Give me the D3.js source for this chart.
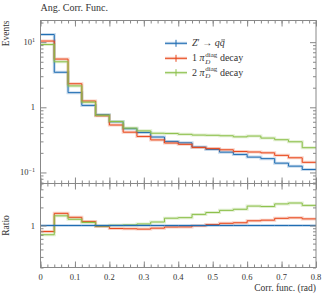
<!DOCTYPE html>
<html>
<head>
<meta charset="utf-8">
<script src="https://cdn.jsdelivr.net/npm/d3@7"></script>
<style>
body { margin: 0; background: #fff; }
svg { font-family: "Liberation Serif", serif; }
.axis path { display: none; }
.axis line { stroke: #888; stroke-width: 1; }
</style>
</head>
<body>
<div id="chart"></div>
<script>
// ---- data ----
var binEdges = [0, 0.04, 0.08, 0.12, 0.16, 0.2, 0.24, 0.28, 0.32, 0.36, 0.4,
                0.44, 0.48, 0.52, 0.56, 0.6, 0.64, 0.68, 0.72, 0.76, 0.8];
var zqq    = [13.1, 3.45, 1.68, 1.07, 0.77, 0.60, 0.47, 0.41, 0.35, 0.30,
              0.285, 0.245, 0.226, 0.205, 0.189, 0.172, 0.163, 0.139, 0.125, 0.111];
var onePi  = [10.4, 5.5, 2.3, 1.25, 0.74, 0.535, 0.415, 0.357, 0.316, 0.283,
              0.27, 0.242, 0.234, 0.223, 0.21, 0.206, 0.200, 0.183, 0.168, 0.143];
var twoPi  = [9.2, 5.0, 2.13, 1.20, 0.755, 0.605, 0.48, 0.435, 0.40, 0.397,
              0.385, 0.375, 0.372, 0.366, 0.352, 0.362, 0.337, 0.318, 0.296, 0.240];
var xTicks = [0, 0.1, 0.2, 0.3, 0.4, 0.5, 0.6, 0.7, 0.8];
var xTickLabels = ["0", "0.1", "0.2", "0.3", "0.4", "0.5", "0.6", "0.7", "0.8"];

var width = 327, height = 295;
var pLeft = 40.5, pRight = 316, pTop = 20.5, mainBottom = 183.5, ratioBottom = 267.5;

var colors = { zqq: "#1f6db3", one: "#e8481c", two: "#8cc04a" };

var svg = d3.select("#chart").append("svg")
    .attr("width", width).attr("height", height);

var x = d3.scaleLinear().domain([0, 0.8]).range([pLeft, pRight]);
var y = d3.scaleLog().domain([0.0677, 21.5]).range([mainBottom, pTop]);
var yr = d3.scaleLog().domain([0.2, 5]).range([ratioBottom, mainBottom]);

// clip so the steps stay in their panels
svg.append("clipPath").attr("id", "clipMain").append("rect")
    .attr("x", pLeft).attr("y", pTop).attr("width", pRight - pLeft).attr("height", mainBottom - pTop);
svg.append("clipPath").attr("id", "clipRatio").append("rect")
    .attr("x", pLeft).attr("y", mainBottom).attr("width", pRight - pLeft).attr("height", ratioBottom - mainBottom);

function stepPoints(vals) {
    var pts = [];
    for (var i = 0; i < vals.length; i++) {
        pts.push([binEdges[i], vals[i]]);
        pts.push([binEdges[i + 1], vals[i]]);
    }
    return pts;
}

function drawSteps(g, vals, scale, color) {
    var line = d3.line().x(d => x(d[0])).y(d => scale(d[1]));
    var pts = stepPoints(vals);
    g.append("path").attr("d", line(pts)).attr("fill", "none")
        .attr("stroke", color).attr("stroke-opacity", 0.25).attr("stroke-width", 3);
    g.append("path").attr("d", line(pts)).attr("fill", "none")
        .attr("stroke", color).attr("stroke-width", 1);
}

// ---- main panel ----
var gMain = svg.append("g").attr("clip-path", "url(#clipMain)");
drawSteps(gMain, zqq, y, colors.zqq);
drawSteps(gMain, onePi, y, colors.one);
drawSteps(gMain, twoPi, y, colors.two);

// ---- ratio panel ----
var ratioOne = onePi.map((v, i) => v / zqq[i]);
var ratioTwo = twoPi.map((v, i) => v / zqq[i]);
var ratioRef = zqq.map(v => v / v);
var gRatio = svg.append("g").attr("clip-path", "url(#clipRatio)");
drawSteps(gRatio, ratioOne, yr, colors.one);
drawSteps(gRatio, ratioTwo, yr, colors.two);
drawSteps(gRatio, ratioRef, yr, colors.zqq);

// ---- ticks ----
var xMinor = d3.range(0, 0.8001, 0.02);
function tickAxis(axisFn, scale, vals, size, transform) {
    svg.append("g").attr("class", "axis").attr("transform", transform)
        .call(axisFn(scale).tickValues(vals).tickSize(size).tickFormat(""));
}
[pTop, mainBottom].forEach(function (yy) {
    tickAxis(d3.axisBottom, x, xMinor, 3, `translate(0,${yy})`);
    tickAxis(d3.axisBottom, x, xTicks, 6, `translate(0,${yy})`);
});
[mainBottom, ratioBottom].forEach(function (yy) {
    tickAxis(d3.axisTop, x, xMinor, 3, `translate(0,${yy})`);
    tickAxis(d3.axisTop, x, xTicks, 6, `translate(0,${yy})`);
});

var yMinor = [];
[0.01, 0.1, 1, 10].forEach(function (d) {
    for (var k = 2; k <= 9; k++) yMinor.push(d * k);
});
yMinor = yMinor.filter(v => v > 0.0677 && v < 21.5);
var yMajor = [0.1, 1, 10];
tickAxis(d3.axisRight, y, yMinor, 3, `translate(${pLeft},0)`);
tickAxis(d3.axisRight, y, yMajor, 6, `translate(${pLeft},0)`);
tickAxis(d3.axisLeft, y, yMinor, 3, `translate(${pRight},0)`);
tickAxis(d3.axisLeft, y, yMajor, 6, `translate(${pRight},0)`);

var rMinor = [0.2, 0.3, 0.4, 0.5, 0.6, 0.7, 0.8, 0.9, 2, 3, 4, 5];
tickAxis(d3.axisRight, yr, rMinor, 3, `translate(${pLeft},0)`);
tickAxis(d3.axisRight, yr, [1], 6, `translate(${pLeft},0)`);
tickAxis(d3.axisLeft, yr, rMinor, 3, `translate(${pRight},0)`);
tickAxis(d3.axisLeft, yr, [1], 6, `translate(${pRight},0)`);

// frames
[[pTop, mainBottom], [mainBottom, ratioBottom]].forEach(function (p) {
    svg.append("rect").attr("x", pLeft).attr("y", p[0])
        .attr("width", pRight - pLeft).attr("height", p[1] - p[0])
        .attr("fill", "none").attr("stroke", "#888").attr("stroke-width", 1);
});

// ---- labels ----
var txt = "#333";
svg.append("text").attr("x", pLeft).attr("y", 11).attr("font-size", 10)
    .attr("fill", txt).text("Ang. Corr. Func.");

svg.append("text").attr("transform", `translate(9,${pTop}) rotate(-90)`)
    .attr("text-anchor", "end").attr("font-size", 9.5).attr("fill", txt).text("Events");
svg.append("text").attr("transform", `translate(9,${yr(1)}) rotate(-90)`)
    .attr("text-anchor", "middle").attr("font-size", 9.5).attr("fill", txt).text("Ratio");

function yLabel(scale, v, base, sup) {
    var t = svg.append("text").attr("x", 35).attr("y", scale(v) + 3)
        .attr("text-anchor", "end").attr("font-size", 8.5).attr("fill", txt);
    t.append("tspan").text(base);
    if (sup) t.append("tspan").attr("dy", -3.5).attr("font-size", 6).text(sup);
}
yLabel(y, 10, "10", "1");
yLabel(y, 1, "1");
yLabel(y, 0.1, "10", "\u22121");
yLabel(yr, 1, "1");

svg.append("g").selectAll("text").data(xTicks).enter().append("text")
    .attr("x", d => x(d)).attr("y", 280).attr("text-anchor", "middle")
    .attr("font-size", 8.5).attr("fill", txt)
    .text((d, i) => xTickLabels[i]);

svg.append("text").attr("x", pRight).attr("y", 291).attr("text-anchor", "end")
    .attr("font-size", 9.5).attr("fill", txt).text("Corr. func. (rad)");

// ---- legend ----
var legendRows = [
    { color: colors.zqq, y: 43.3 },
    { color: colors.one, y: 58.3 },
    { color: colors.two, y: 72.7 }
];
var lg = svg.append("g");
legendRows.forEach(function (r) {
    lg.append("line").attr("x1", 165).attr("x2", 187).attr("y1", r.y).attr("y2", r.y)
        .attr("stroke", r.color).attr("stroke-width", 1);
    lg.append("line").attr("x1", 165).attr("x2", 187).attr("y1", r.y).attr("y2", r.y)
        .attr("stroke", r.color).attr("stroke-opacity", 0.25).attr("stroke-width", 3);
    lg.append("line").attr("x1", 176).attr("x2", 176).attr("y1", r.y - 3.5).attr("y2", r.y + 3.5)
        .attr("stroke", r.color).attr("stroke-width", 1);
});
var tx = 192, fs = 10;
var t1 = lg.append("text").attr("x", tx).attr("y", legendRows[0].y + 3)
    .attr("font-size", fs).attr("fill", txt);
t1.append("tspan").attr("font-style", "italic").text("Z");
t1.append("tspan").text("\u2032 \u2192 ");
t1.append("tspan").attr("font-style", "italic").text("qq");
// bar over the antiquark
var nChars = t1.node().getNumberOfChars();
var box = t1.node().getExtentOfChar(nChars - 1);
lg.append("line").attr("x1", box.x + 1.5).attr("x2", box.x + box.width + 0.3)
    .attr("y1", legendRows[0].y - 3.4).attr("y2", legendRows[0].y - 3.4)
    .attr("stroke", txt).attr("stroke-width", 0.7);

[["1", legendRows[1].y], ["2", legendRows[2].y]].forEach(function (r) {
    var a = lg.append("text").attr("x", tx).attr("y", r[1] + 3)
        .attr("font-size", fs).attr("fill", txt);
    a.append("tspan").text(r[0] + " ");
    a.append("tspan").attr("font-style", "italic").text("\u03c0");
    var w = a.node().getComputedTextLength();
    var sx = tx + w + 0.8;
    var sup = lg.append("text").attr("x", sx).attr("y", r[1] - 1.5)
        .attr("font-size", 7).attr("fill", txt).text("diag");
    lg.append("text").attr("x", sx).attr("y", r[1] + 5.5)
        .attr("font-size", 7).attr("font-style", "italic").attr("fill", txt).text("D");
    var sw = sup.node().getComputedTextLength();
    lg.append("text").attr("x", sx + sw + 2.5).attr("y", r[1] + 3)
        .attr("font-size", fs).attr("fill", txt).text("decay");
});
</script>
</body>
</html>
